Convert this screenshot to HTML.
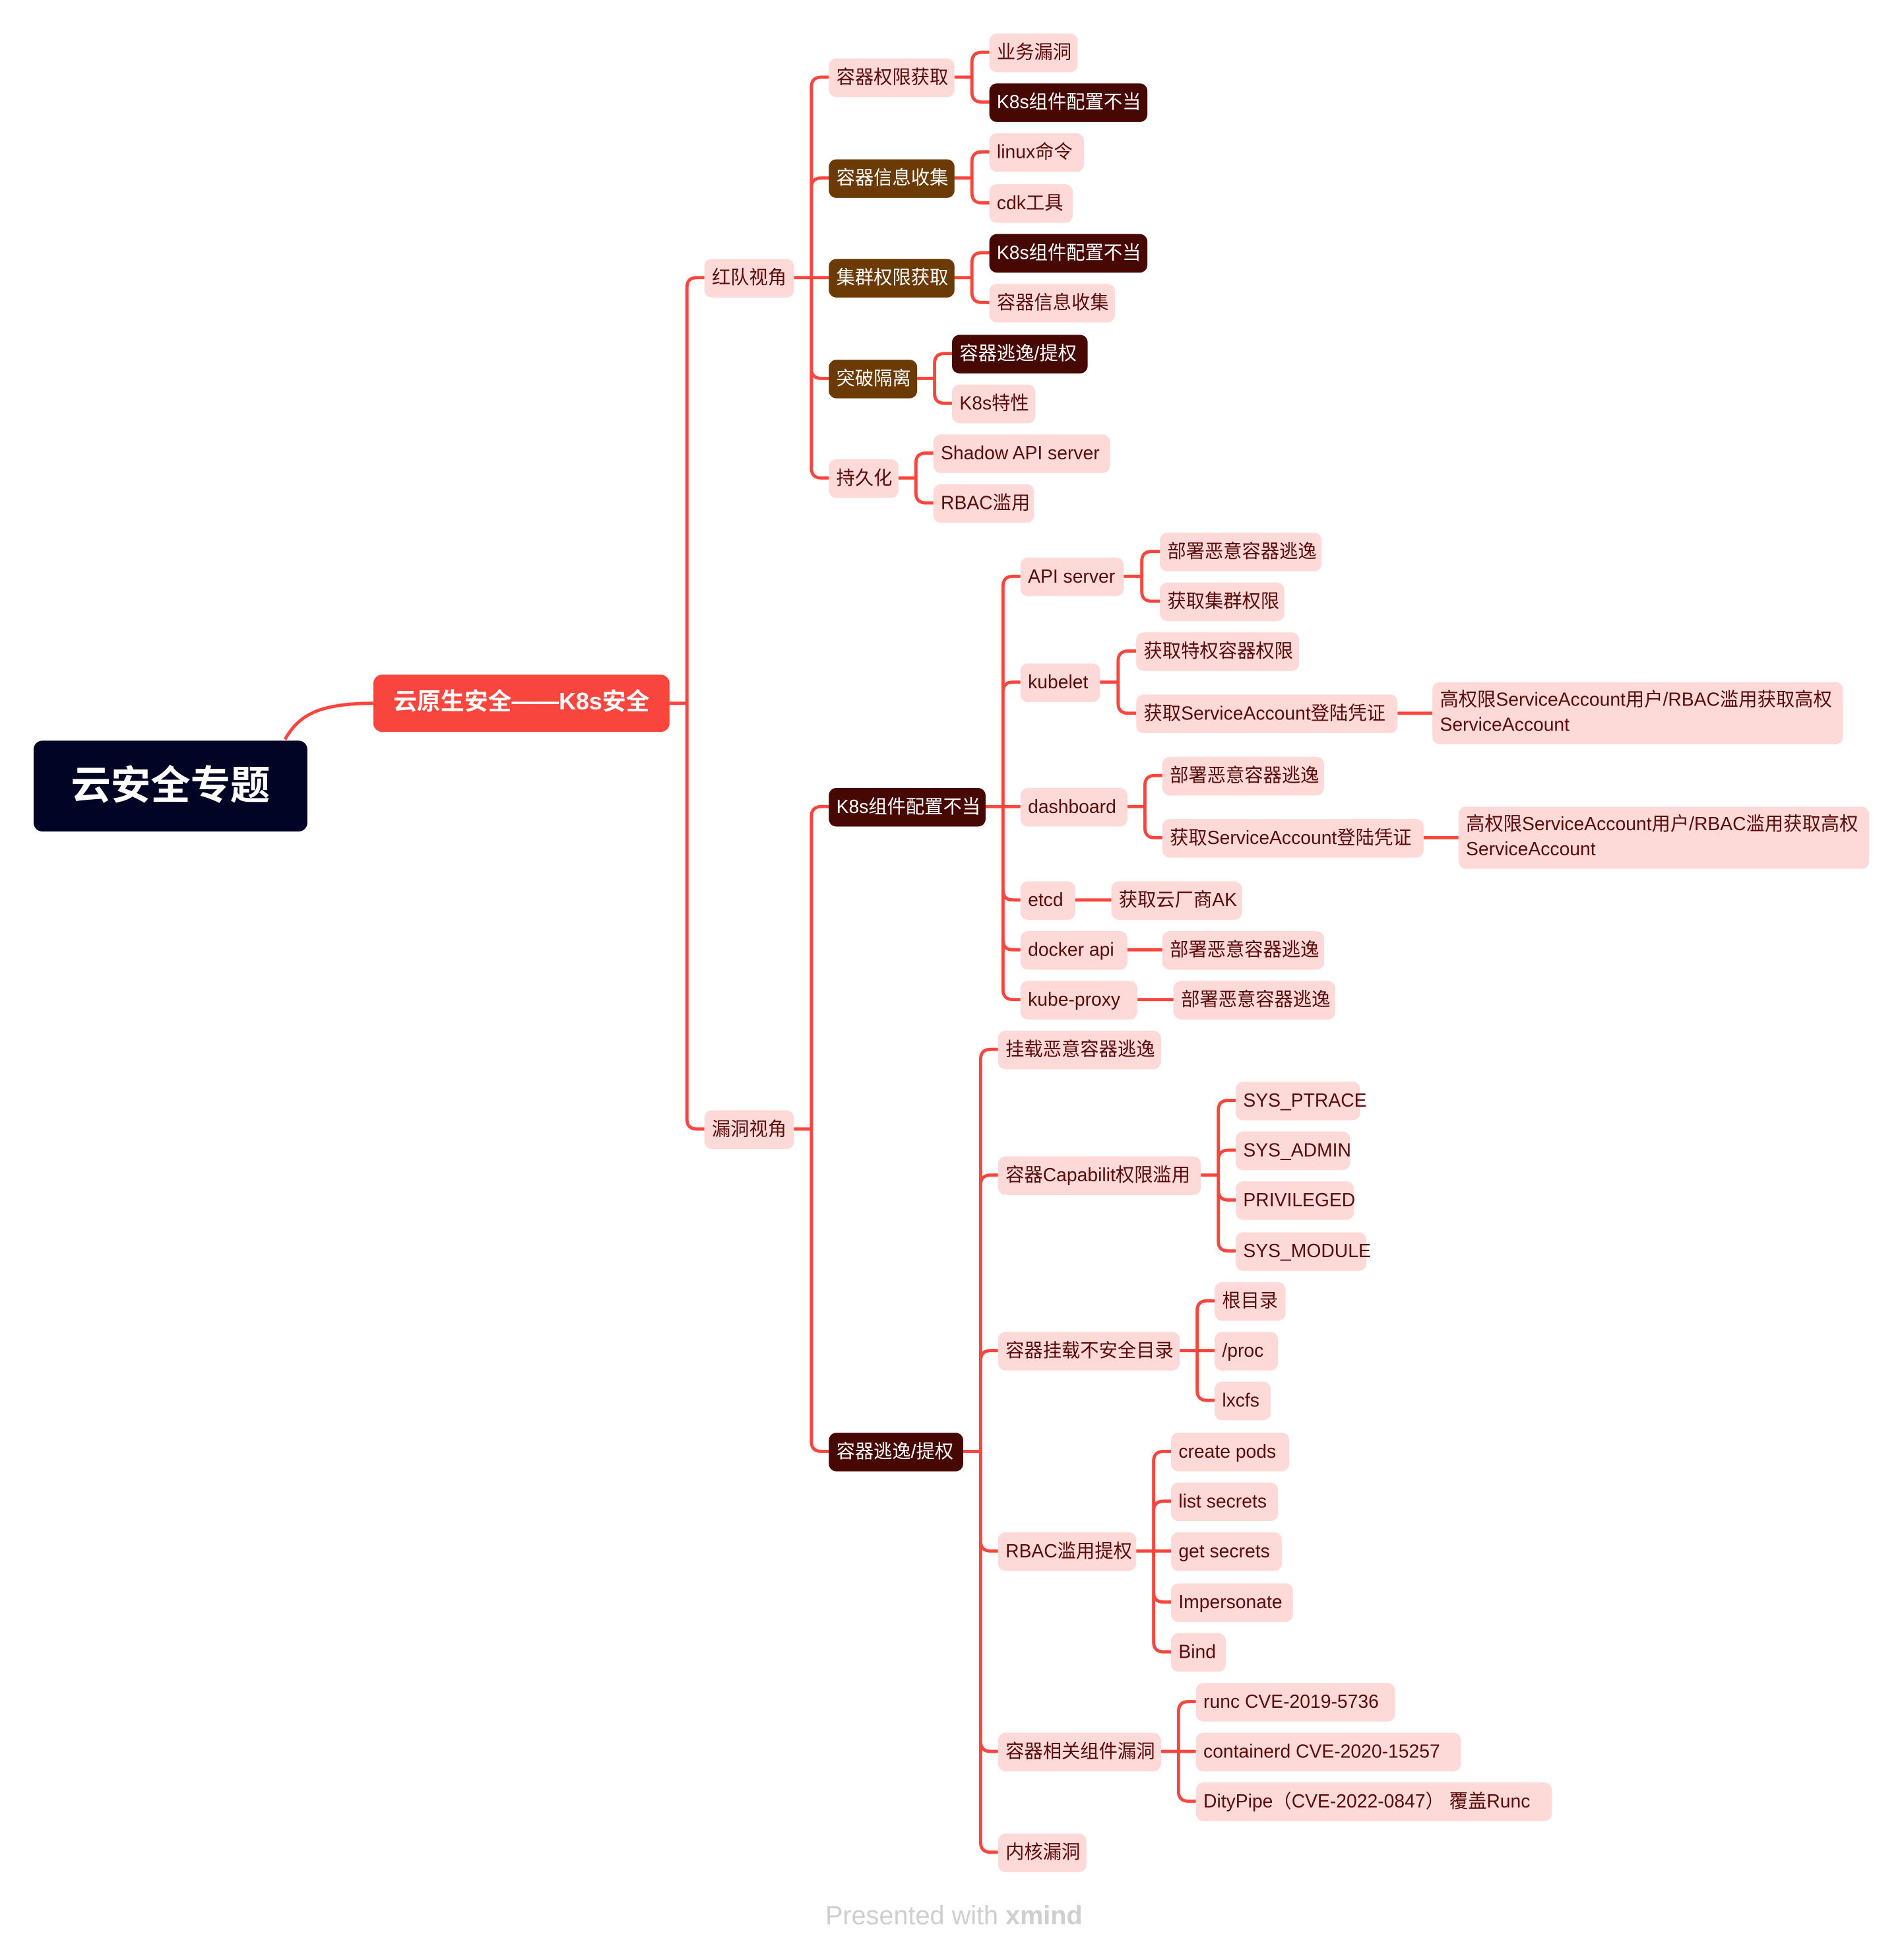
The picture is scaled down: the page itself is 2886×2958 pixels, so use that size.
<!DOCTYPE html>
<html><head><meta charset="utf-8">
<style>
html,body{margin:0;padding:0;background:#fff;}
body{width:2886px;height:2958px;overflow:hidden;position:relative;}
#c{position:absolute;left:0;top:0;width:1530px;height:1568px;transform:scale(1.8863);transform-origin:0 0;font-family:"Liberation Sans","Noto Sans CJK SC",sans-serif;}
.n{position:absolute;box-sizing:border-box;border-radius:6px;font-size:15px;line-height:31px;height:31px;padding-left:6px;white-space:nowrap;overflow:visible;}
.l{background:#fdd9d8;color:#5a0b0b;}
.d{background:#470804;color:#fff;}
.b{background:#6b3a05;color:#fff;}
.t{height:50px;line-height:20px;padding-top:5px;}
svg{position:absolute;left:0;top:0;}
</style></head><body>
<div id="c">
<svg id="s" width="1530" height="1568"></svg>
<div style="position:absolute;left:27px;top:595px;width:220px;height:73px;background:#020426;border-radius:7px;color:#fff;font-size:32px;font-weight:bold;line-height:73px;text-align:center;">云安全专题</div>
<div style="position:absolute;left:300px;top:542px;width:238px;height:46px;background:#f8453d;border-radius:7px;color:#fff;font-size:19px;font-weight:bold;line-height:46px;text-align:center;">云原生安全——K8s安全</div>
<div id="nodes"></div>
<div style="position:absolute;left:0;width:1533px;top:1528px;text-align:center;color:#cfcfcf;font-size:21px;">Presented with <b>xmind</b></div>
</div>
<script>
var T=[
[566,638,223,'红队视角','l',[
 [666,767,62,'容器权限获取','l',[[795,866,42,'业务漏洞','l'],[795,922,82,'K8s组件配置不当','d']]],
 [666,767,143,'容器信息收集','b',[[795,871,122,'linux命令','l'],[795,862,163,'cdk工具','l']]],
 [666,767,223,'集群权限获取','b',[[795,922,203,'K8s组件配置不当','d'],[795,896,243,'容器信息收集','l']]],
 [666,737,304,'突破隔离','b',[[765,874,284,'容器逃逸/提权','d'],[765,832,324,'K8s特性','l']]],
 [666,722,384,'持久化','l',[[750,892,364,'Shadow API server','l'],[750,831,404,'RBAC滥用','l']]]
]],
[566,638,907,'漏洞视角','l',[
 [666,792,648,'K8s组件配置不当','d',[
  [820,903,463,'API server','l',[[932,1062,443,'部署恶意容器逃逸','l'],[932,1032,483,'获取集群权限','l']]],
  [820,884,548,'kubelet','l',[[913,1044,523,'获取特权容器权限','l'],[913,1123,573,'获取ServiceAccount登陆凭证','l',[[1151,1481,573,'高权限ServiceAccount用户/RBAC滥用获取高权<br>ServiceAccount','l t']]]]],
  [820,906,648,'dashboard','l',[[934,1064,623,'部署恶意容器逃逸','l'],[934,1144,673,'获取ServiceAccount登陆凭证','l',[[1172,1502,673,'高权限ServiceAccount用户/RBAC滥用获取高权<br>ServiceAccount','l t']]]]],
  [820,864,723,'etcd','l',[[893,998,723,'获取云厂商AK','l']]],
  [820,906,763,'docker api','l',[[934,1064,763,'部署恶意容器逃逸','l']]],
  [820,914,803,'kube-proxy','l',[[943,1073,803,'部署恶意容器逃逸','l']]]
 ]],
 [666,774,1166,'容器逃逸/提权','d',[
  [802,933,843,'挂载恶意容器逃逸','l'],
  [802,965,944,'容器Capabilit权限滥用','l',[[993,1093,884,'SYS_PTRACE','l'],[993,1085,924,'SYS_ADMIN','l'],[993,1088,964,'PRIVILEGED','l'],[993,1098,1005,'SYS_MODULE','l']]],
  [802,948,1085,'容器挂载不安全目录','l',[[976,1033,1045,'根目录','l'],[976,1027,1085,'/proc','l'],[976,1021,1125,'lxcfs','l']]],
  [802,913,1246,'RBAC滥用提权','l',[[941,1036,1166,'create pods','l'],[941,1027,1206,'list secrets','l'],[941,1030,1246,'get secrets','l'],[941,1039,1287,'Impersonate','l'],[941,985,1327,'Bind','l']]],
  [802,933,1407,'容器相关组件漏洞','l',[[961,1121,1367,'runc CVE-2019-5736','l'],[961,1174,1407,'containerd CVE-2020-15257','l'],[961,1247,1447,'DityPipe（CVE-2022-0847） 覆盖Runc','l']]],
  [802,873,1488,'内核漏洞','l']
 ]]
]]];
var P='',H='';
function conn(px,py,kids){
  var cl=kids[0][0];var sx=(px+cl)/2;
  P+='M'+px+','+py+'H'+sx;
  kids.forEach(function(k){
    var cy=k[2],r=8,d=cy-py;
    if(Math.abs(d)<1){P+='M'+sx+','+py+'H'+k[0];}
    else{var s=d>0?1:-1;P+='M'+sx+','+py+'V'+(cy-s*r)+'Q'+sx+','+cy+' '+(sx+r)+','+cy+'H'+k[0];}
  });
}
function draw(n){
  var h=n[4].indexOf('t')>=0?50:31;
  H+='<div class="n '+n[4]+'" style="left:'+n[0]+'px;top:'+(n[2]-h/2)+'px;width:'+(n[1]-n[0])+'px">'+n[3]+'</div>';
  if(n[5]){conn(n[1],n[2],n[5]);n[5].forEach(draw);}
}
conn(538,565,T);T.forEach(draw);
P+='M229,594C240,575 255,565 300,565';
document.getElementById('s').innerHTML='<path d="'+P+'" fill="none" stroke="#f8453d" stroke-width="2.6"/>';
document.getElementById('nodes').innerHTML=H;
</script>
</body></html>
